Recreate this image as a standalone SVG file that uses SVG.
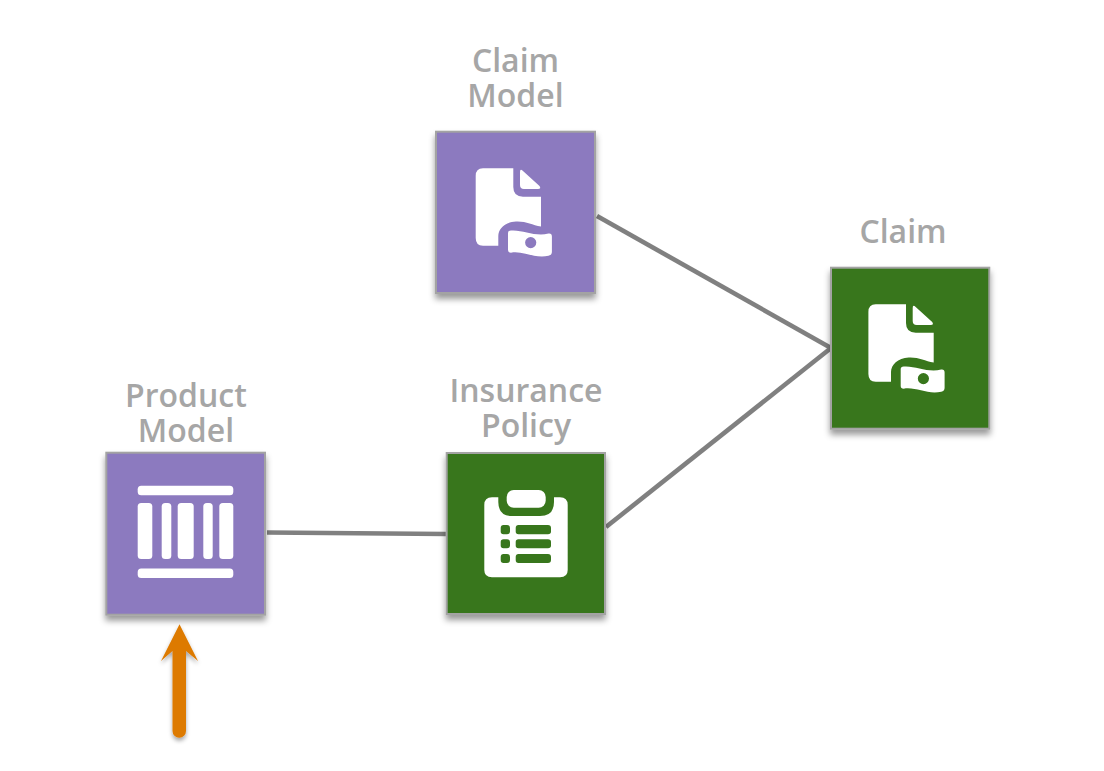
<svg xmlns="http://www.w3.org/2000/svg" width="1104" height="771" viewBox="0 0 1104 771">
  <style>
    .box { stroke: #a3a3a3; stroke-width: 2; filter: url(#lift); }
    .purple { fill: #8c7abf; }
    .green { fill: #38761d; }
    .label { font-family: "Open Sans", "Noto Sans", sans-serif; font-weight: 600; font-size: 32px; fill: #a6a6a6; text-anchor: middle; }
    .link { fill: none; stroke: #808080; stroke-width: 4.6; }
    .glyph { fill: #ffffff; }
  </style>
  <defs>
    <filter id="lift" x="-15%" y="-15%" width="130%" height="130%">
      <feDropShadow dx="0" dy="5" stdDeviation="3" flood-color="#000000" flood-opacity="0.4"/>
    </filter>
    <filter id="arrowLift" x="-40%" y="-15%" width="180%" height="130%">
      <feDropShadow dx="0" dy="3" stdDeviation="2" flood-color="#000000" flood-opacity="0.35"/>
    </filter>
    <!-- document with a banknote tucked into its lower corner -->
    <g id="claimIcon">
      <path class="glyph" d="M48 37.3 H78.3 V56 Q78.3 65.7 88 65.7 H106 V95.5 C97 94 91 90 81 90.5 C70 91 63.3 98 63.3 105 V114.7 H48 Q40.7 114.7 40.7 107 V45 Q40.7 37.3 48 37.3 Z"/>
      <path class="glyph" d="M85 41 Q85 37 88 40 L104.5 55 Q106.5 58 103 58 H89 Q85 58 85 54 Z"/>
      <path class="glyph" fill-rule="evenodd" d="M73 102 Q73 99.5 76 99.5 C88 98.5 100 106 113.5 102.5 Q116.9 102 116.9 105.5 V121 Q116.9 124 113.5 124.7 C100 128 88 119.5 76 121.7 Q73 121.7 73 119 Z M95.7 106 A5.6 5.6 0 1 0 95.7 117.2 A5.6 5.6 0 1 0 95.7 106 Z"/>
    </g>
  </defs>

  <g id="links">
    <path class="link" d="M597 216 L831 348"/>
    <path class="link" d="M606 527 L831 348"/>
    <path class="link" d="M267 532.5 L446 534"/>
  </g>

  <g id="claim-model">
    <rect class="box purple" x="436" y="131.7" width="159" height="161.3"/>
    <use href="#claimIcon" x="435" y="131"/>
    <text class="label"><tspan x="515.5" y="72">Claim</tspan><tspan x="515.5" y="107">Model</tspan></text>
  </g>

  <g id="claim">
    <rect class="box green" x="831" y="267.7" width="158.3" height="161"/>
    <use href="#claimIcon" x="827.7" y="267"/>
    <text class="label" x="903" y="243">Claim</text>
  </g>

  <g id="insurance-policy">
    <rect class="box green" x="446.7" y="453" width="158.3" height="161"/>
    <path class="glyph" fill-rule="evenodd" d="M492 497.3 H498.3 V502 Q498.3 516 512 516 H540 Q554 516 554 502 V497.3 H560 Q567.7 497.3 567.7 505 V570 Q567.7 577.3 560 577.3 H492 Q484.3 577.3 484.3 570 V505 Q484.3 497.3 492 497.3 Z M503.5 525 Q500.7 525 500.7 528 V531.5 Q500.7 534.3 503.5 534.3 H507 Q510 534.3 510 531.5 V528 Q510 525 507 525 Z M518.5 525 Q515.7 525 515.7 528 V531.5 Q515.7 534.3 518.5 534.3 H548 Q551 534.3 551 531.5 V528 Q551 525 548 525 Z M503.5 539.3 Q500.7 539.3 500.7 542 V545.5 Q500.7 548.3 503.5 548.3 H507 Q510 548.3 510 545.5 V542 Q510 539.3 507 539.3 Z M518.5 539.3 Q515.7 539.3 515.7 542 V545.5 Q515.7 548.3 518.5 548.3 H548 Q551 548.3 551 545.5 V542 Q551 539.3 548 539.3 Z M503.5 554 Q500.7 554 500.7 557 V560 Q500.7 563 503.5 563 H507 Q510 563 510 560 V557 Q510 554 507 554 Z M518.5 554 Q515.7 554 515.7 557 V560 Q515.7 563 518.5 563 H548 Q551 563 551 560 V557 Q551 554 548 554 Z"/>
    <rect class="glyph" x="506.7" y="490" width="39" height="17.7" rx="7"/>
    <text class="label"><tspan x="526" y="402">Insurance</tspan><tspan x="526" y="437">Policy</tspan></text>
  </g>

  <g id="product-model">
    <rect class="box purple" x="106.3" y="452.7" width="158.7" height="162"/>
    <rect class="glyph" x="137.7" y="485.7" width="95.6" height="9.6" rx="3.5"/>
    <rect class="glyph" x="137.7" y="503" width="14.6" height="56" rx="3.5"/>
    <rect class="glyph" x="161.7" y="503" width="9.6" height="56" rx="3.5"/>
    <rect class="glyph" x="177.7" y="503" width="16" height="56" rx="3.5"/>
    <rect class="glyph" x="203.3" y="503" width="9.4" height="56" rx="3.5"/>
    <rect class="glyph" x="219.3" y="503" width="14" height="56" rx="3.5"/>
    <rect class="glyph" x="137.7" y="568.5" width="95.6" height="9.6" rx="3.5"/>
    <text class="label"><tspan x="186" y="407">Product</tspan><tspan x="186" y="442">Model</tspan></text>
  </g>

  <g id="entry-arrow" filter="url(#arrowLift)">
    <path d="M179.5 624.3 L198 661 L186 651 V731 A6.5 6.5 0 0 1 172.5 731 V651 L161 661 Z" fill="#dd7a00"/>
  </g>
</svg>
